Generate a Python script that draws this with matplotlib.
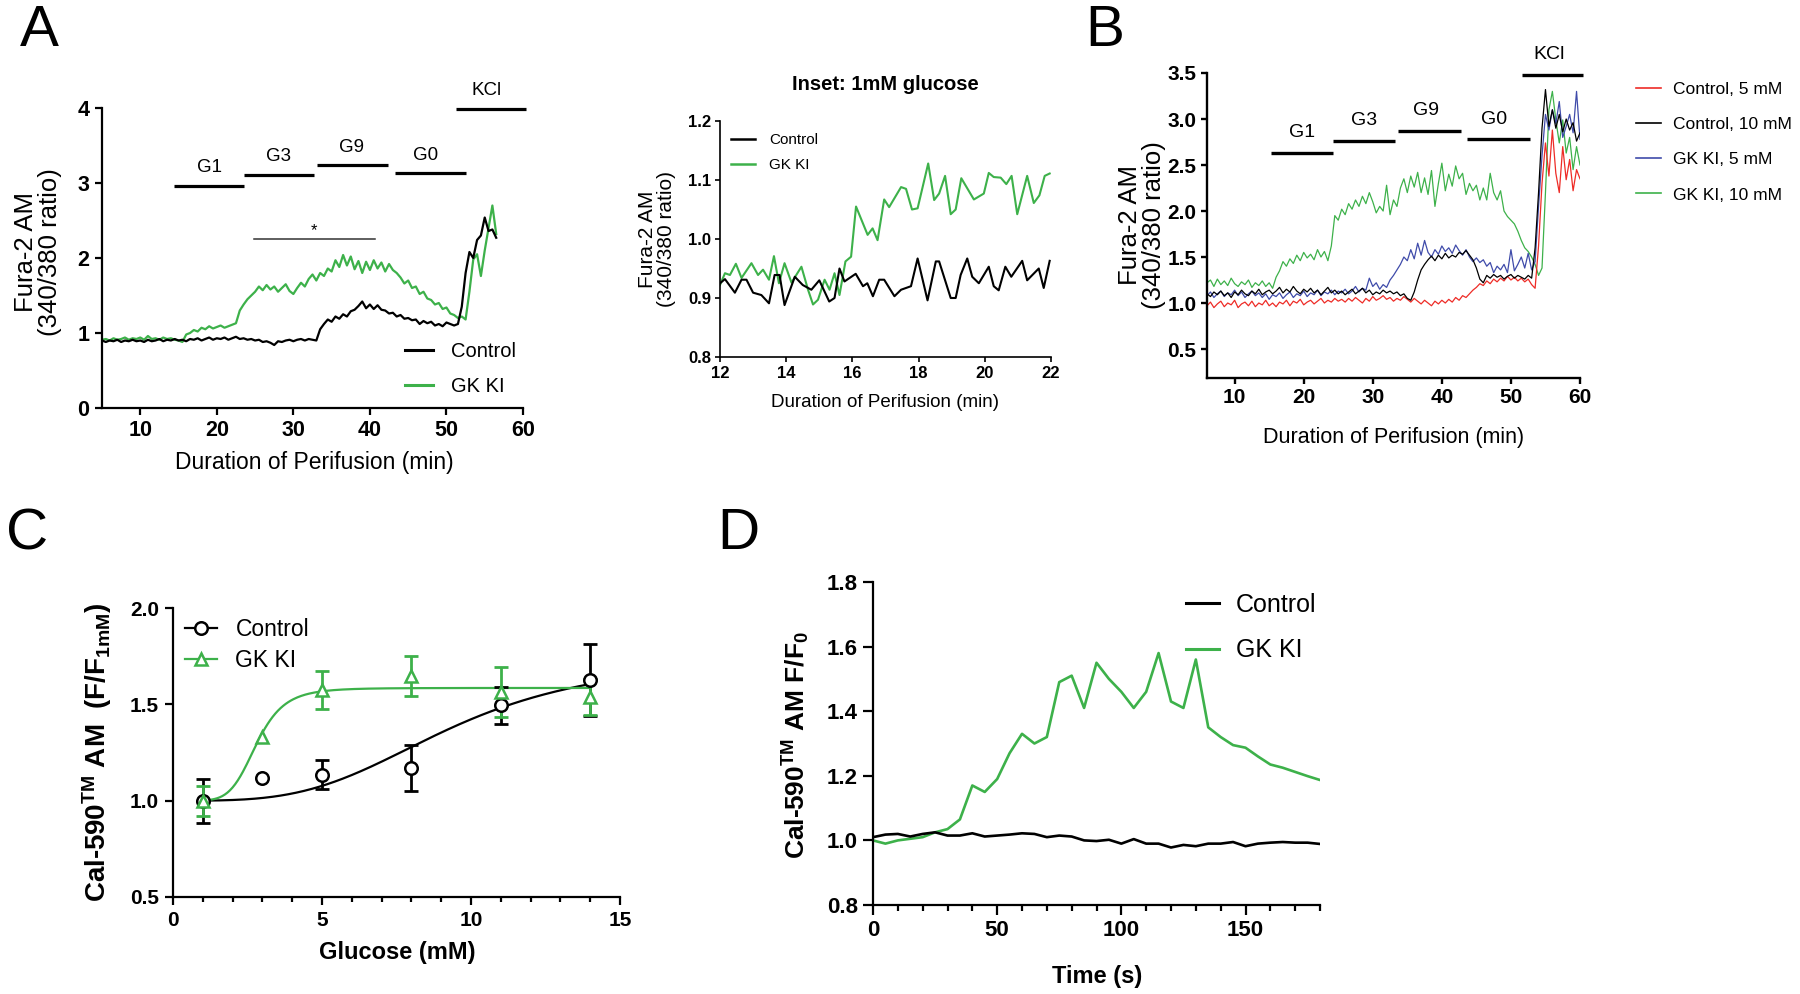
import numpy as np
import matplotlib
matplotlib.use("Agg")
import matplotlib.pyplot as plt
from matplotlib.lines import Line2D
from matplotlib.ticker import MultipleLocator

plt.rcParams["font.family"] = ["Liberation Sans", "DejaVu Sans"]
plt.rcParams["mathtext.fontset"] = "custom"
plt.rcParams["mathtext.rm"] = "Liberation Sans"
plt.rcParams["mathtext.bf"] = "Liberation Sans:bold"
plt.rcParams["mathtext.it"] = "Liberation Sans:italic"

SANS = ["Liberation Sans", "DejaVu Sans"]

# ====================== DATA ======================
# ---- Panel A: Fura-2 traces, 0.5-min samples from 5.0 min ----
a_t_start, a_t_step = 5.0, 0.5
a_control = [0.90, 0.88, 0.90, 0.89, 0.91, 0.88, 0.90, 0.89, 0.91, 0.89,
             0.90, 0.88, 0.91, 0.89, 0.90, 0.92, 0.89, 0.91, 0.90, 0.92,
             0.90, 0.91, 0.89, 0.92, 0.91, 0.93, 0.90, 0.92, 0.94, 0.91,
             0.93, 0.92, 0.94, 0.91, 0.93, 0.95, 0.92, 0.93, 0.91, 0.92,
             0.90, 0.91, 0.88, 0.89, 0.87, 0.84, 0.89, 0.88, 0.90, 0.91,
             0.89, 0.91, 0.92, 0.90, 0.92, 0.91, 0.90, 1.05, 1.12, 1.18,
             1.15, 1.22, 1.19, 1.25, 1.22, 1.29, 1.31, 1.36, 1.42, 1.33,
             1.38, 1.32, 1.37, 1.31, 1.30, 1.26, 1.27, 1.22, 1.24, 1.19,
             1.20, 1.17, 1.18, 1.12, 1.16, 1.13, 1.15, 1.10, 1.12, 1.09,
             1.14, 1.12, 1.10, 1.12, 1.35, 1.80, 2.08, 2.00, 2.24, 2.30,
             2.54, 2.36, 2.38, 2.27]
a_gkki = [0.91, 0.92, 0.90, 0.93, 0.91, 0.92, 0.94, 0.91, 0.93, 0.92,
          0.94, 0.91, 0.96, 0.92, 0.93, 0.91, 0.94, 0.92, 0.93, 0.91,
          0.90, 0.88, 0.98, 1.00, 1.04, 1.02, 1.07, 1.05, 1.09, 1.06,
          1.08, 1.10, 1.07, 1.09, 1.11, 1.13, 1.30, 1.38, 1.45, 1.50,
          1.55, 1.62, 1.57, 1.64, 1.58, 1.62, 1.55, 1.60, 1.65, 1.56,
          1.52, 1.60, 1.67, 1.62, 1.72, 1.78, 1.70, 1.80, 1.76, 1.86,
          1.82, 1.97, 1.88, 2.04, 1.90, 2.02, 1.85, 1.96, 1.80, 1.95,
          1.84, 1.97, 1.86, 1.94, 1.82, 1.92, 1.84, 1.80, 1.74, 1.66,
          1.70, 1.60, 1.62, 1.52, 1.55, 1.46, 1.44, 1.38, 1.40, 1.32,
          1.34, 1.26, 1.24, 1.20, 1.22, 1.18, 1.55, 1.98, 2.05, 1.76,
          2.10, 2.40, 2.70, 2.32]
a_steps = ["G1", "G3", "G9", "G0", "KCl"]
a_step_start = [14.4, 23.55, 33.1, 43.3, 51.3]
a_step_end = [23.6, 32.7, 42.3, 52.5, 60.45]
a_sig_range = [24.8, 40.7]

# ---- Inset: 1 mM glucose ----
inset_ctrl_t = [12.0, 12.15, 12.45, 12.65, 12.8, 13.0, 13.25, 13.48, 13.65, 13.8,
                13.95, 14.26, 14.5, 14.76, 15.0, 15.3, 15.46, 15.61, 15.76, 16.1,
                16.32, 16.45, 16.62, 16.81, 16.96, 17.27, 17.47, 17.77, 17.97, 18.27,
                18.52, 18.62, 18.97, 19.12, 19.27, 19.47, 19.62, 19.82, 20.12, 20.27,
                20.42, 20.62, 20.8, 21.13, 21.28, 21.63, 21.78, 21.96]
inset_ctrl_v = [0.925, 0.932, 0.909, 0.931, 0.931, 0.909, 0.905, 0.891, 0.939, 0.939,
                0.888, 0.936, 0.922, 0.914, 0.930, 0.894, 0.900, 0.950, 0.928, 0.941,
                0.920, 0.925, 0.903, 0.931, 0.931, 0.903, 0.914, 0.920, 0.967, 0.896,
                0.962, 0.962, 0.900, 0.900, 0.939, 0.967, 0.936, 0.925, 0.953, 0.920,
                0.913, 0.953, 0.936, 0.963, 0.930, 0.950, 0.917, 0.963]
inset_gk_t = [12.0, 12.15, 12.3, 12.48, 12.65, 12.95, 13.15, 13.3, 13.48, 13.63,
              13.78, 13.95, 14.16, 14.46, 14.66, 14.81, 14.96, 15.16, 15.31, 15.46,
              15.61, 15.79, 15.96, 16.11, 16.46, 16.61, 16.76, 16.96, 17.11, 17.47,
              17.62, 17.8, 17.97, 18.29, 18.47, 18.62, 18.8, 18.97, 19.12, 19.29,
              19.67, 19.97, 20.12, 20.27, 20.48, 20.65, 20.81, 20.98, 21.28, 21.48,
              21.65, 21.81, 21.96]
inset_gk_v = [0.922, 0.942, 0.939, 0.958, 0.934, 0.959, 0.939, 0.948, 0.931, 0.971,
              0.925, 0.959, 0.926, 0.953, 0.914, 0.889, 0.897, 0.931, 0.914, 0.942,
              0.905, 0.962, 0.970, 1.055, 1.007, 1.018, 0.998, 1.067, 1.054, 1.088,
              1.085, 1.050, 1.052, 1.128, 1.066, 1.077, 1.107, 1.042, 1.050, 1.103,
              1.067, 1.077, 1.112, 1.105, 1.104, 1.093, 1.107, 1.042, 1.107, 1.061,
              1.074, 1.107, 1.111]

# ---- Panel B: 0.5-min samples from 6.0 min ----
b_t_start, b_t_step = 6.0, 0.5
b_ctrl5 = [0.97, 1.01, 0.95, 0.99, 1.02, 0.96, 1.00, 0.98, 1.03, 0.95,
           0.99, 1.01, 0.97, 1.02, 0.96, 1.00, 0.98, 1.03, 0.97, 1.00,
           0.96, 1.01, 0.99, 1.03, 0.97, 1.02, 1.00, 1.04, 0.98, 1.01,
           1.03, 0.99, 1.02, 1.05, 1.00, 1.03, 1.01, 1.05, 1.02, 1.04,
           1.01, 1.05, 1.02, 1.06, 1.03, 1.00, 1.05, 1.02, 1.07, 1.03,
           1.05, 1.08, 1.04, 1.06, 1.02, 1.05, 1.03, 1.07, 1.04, 1.01,
           1.05, 1.02, 0.99, 1.03, 1.00, 0.97, 1.02, 0.99, 1.03, 1.00,
           1.04, 1.01, 1.06, 1.03, 1.08, 1.06, 1.10, 1.14, 1.17, 1.21,
           1.19, 1.24, 1.21, 1.26, 1.23, 1.27, 1.24, 1.29, 1.25, 1.28,
           1.24, 1.27, 1.23, 1.26, 1.20, 1.16, 1.62, 2.30, 2.74, 2.38,
           2.88, 2.41, 2.20, 2.70, 2.34, 2.56, 2.22, 2.45, 2.35]
b_ctrl10 = [1.10, 1.07, 1.12, 1.09, 1.13, 1.08, 1.11, 1.06, 1.12, 1.09,
            1.14, 1.10, 1.08, 1.13, 1.10, 1.15, 1.09, 1.12, 1.14, 1.10,
            1.13, 1.17, 1.11, 1.15, 1.12, 1.18, 1.13, 1.10, 1.15, 1.12,
            1.16, 1.11, 1.14, 1.09, 1.13, 1.17, 1.11, 1.14, 1.10, 1.13,
            1.09, 1.12, 1.15, 1.10, 1.13, 1.16, 1.11, 1.14, 1.09, 1.12,
            1.10, 1.14, 1.11, 1.13, 1.10, 1.12, 1.08, 1.10, 1.05, 1.03,
            1.12, 1.25, 1.36, 1.42, 1.47, 1.51, 1.46, 1.52, 1.48, 1.54,
            1.49, 1.52, 1.50, 1.55, 1.53, 1.57, 1.52, 1.47, 1.38, 1.26,
            1.22, 1.30, 1.27, 1.31, 1.28, 1.30, 1.26, 1.29, 1.31, 1.27,
            1.30, 1.28, 1.26, 1.30, 1.27, 1.60, 2.20, 2.90, 3.32, 2.92,
            3.10, 2.90, 3.05, 2.86, 3.00, 2.88, 2.96, 2.76, 2.85]
b_gk5 = [1.08, 1.12, 1.06, 1.10, 1.13, 1.07, 1.11, 1.09, 1.14, 1.08,
         1.12, 1.06, 1.10, 1.13, 1.08, 1.11, 1.06, 1.10, 1.04, 1.09,
         1.07, 1.11, 1.05, 1.09, 1.12, 1.06, 1.10, 1.08, 1.13, 1.07,
         1.11, 1.09, 1.14, 1.08, 1.12, 1.10, 1.14, 1.09, 1.13, 1.11,
         1.15, 1.10, 1.13, 1.18, 1.12, 1.16, 1.14, 1.27, 1.18, 1.22,
         1.15, 1.20, 1.17, 1.25, 1.30, 1.36, 1.42, 1.50, 1.46, 1.58,
         1.48, 1.65, 1.52, 1.68, 1.55, 1.50, 1.58, 1.53, 1.62, 1.56,
         1.60, 1.54, 1.63, 1.57, 1.52, 1.58, 1.50, 1.45, 1.49, 1.44,
         1.47, 1.40, 1.44, 1.33, 1.40, 1.36, 1.42, 1.33, 1.58, 1.35,
         1.42, 1.50, 1.38, 1.54, 1.36, 1.45, 2.05, 2.60, 3.05, 2.88,
         3.10, 2.95, 3.19, 2.80, 2.92, 3.05, 2.85, 3.30, 2.78]
b_gk10 = [1.22, 1.25, 1.18, 1.26, 1.20, 1.24, 1.19, 1.27, 1.21, 1.18,
          1.23, 1.20, 1.25, 1.17, 1.22, 1.19, 1.24, 1.18, 1.22, 1.16,
          1.28, 1.35, 1.45, 1.40, 1.48, 1.43, 1.52, 1.46, 1.55, 1.49,
          1.53, 1.47, 1.58, 1.50, 1.56, 1.46, 1.62, 1.95, 1.90, 2.02,
          1.96, 2.08, 2.02, 2.12, 2.05, 2.16, 2.08, 2.20, 2.10, 1.98,
          2.05, 2.00, 2.28, 1.96, 2.12, 2.05, 2.25, 2.35, 2.20, 2.38,
          2.26, 2.42, 2.20, 2.36, 2.18, 2.44, 2.05, 2.30, 2.52, 2.22,
          2.40, 2.27, 2.49, 2.35, 2.41, 2.18, 2.30, 2.22, 2.28, 2.12,
          2.25, 2.12, 2.41, 2.20, 2.12, 2.22, 2.00, 1.94, 1.90, 1.86,
          1.78, 1.68, 1.60, 1.56, 1.50, 1.42, 1.30, 1.38, 2.20, 3.10,
          3.30, 2.99, 2.74, 2.99, 2.63, 2.80, 2.45, 2.70, 2.50]
b_labels = ["Control, 5 mM", "Control, 10 mM", "GK KI, 5 mM", "GK KI, 10 mM"]
b_steps = ["G1", "G3", "G9", "G0", "KCl"]
b_step_start = [15.2, 24.2, 33.7, 43.7, 51.6]
b_step_end = [24.2, 33.2, 42.7, 52.7, 60.5]

# ---- Panel C: dose response ----
c_glucose = [1, 3, 5, 8, 11, 14]
c_ctrl_mean = [1.00, 1.116, 1.135, 1.168, 1.495, 1.625]
c_ctrl_sem = [0.115, 0.0, 0.075, 0.12, 0.095, 0.186]
c_gk_mean = [0.997, 1.33, 1.573, 1.646, 1.564, 1.538]
c_gk_sem = [0.077, 0.0, 0.098, 0.103, 0.13, 0.095]
c_ctrl_fit = {"bottom": 1.0, "top": 1.75, "ec50": 9.3, "hill": 3.5}
c_gk_fit = {"bottom": 1.0, "top": 1.585, "ec50": 2.8, "hill": 6.0}

# ---- Panel D: Cal-590 time course, 5-s samples ----
d_time = list(range(0, 181, 5))
d_gkki = [1.00, 0.99, 1.00, 1.005, 1.01, 1.025, 1.035, 1.065, 1.17, 1.15,
          1.19, 1.27, 1.33, 1.30, 1.32, 1.49, 1.51, 1.41, 1.55, 1.50,
          1.46, 1.41, 1.46, 1.58, 1.43, 1.41, 1.56, 1.35, 1.32, 1.295,
          1.287, 1.26, 1.235, 1.225, 1.212, 1.199, 1.187]
d_control = [1.01, 1.018, 1.02, 1.012, 1.02, 1.025, 1.015, 1.015, 1.022, 1.012,
             1.015, 1.018, 1.022, 1.02, 1.01, 1.015, 1.012, 1.0, 0.998, 1.002,
             0.99, 1.004, 0.99, 0.99, 0.978, 0.986, 0.982, 0.99, 0.99, 0.995,
             0.982, 0.99, 0.993, 0.995, 0.993, 0.993, 0.989]

# ====================== STYLE ======================
GREEN = "#3DB14A"
RED = "#EE2C27"
BLUE = "#3F4BAA"
W, H = 1800, 994

fig = plt.figure(figsize=(18, 9.94), dpi=100)


def add_axes_px(l, t, r, b):
    return fig.add_axes([l / W, 1 - b / H, (r - l) / W, (b - t) / H])


def ftext(x, y, s, **kw):
    return fig.text(x / W, 1 - y / H, s, **kw)


def style_axes(ax, lw, major_len, minor_len=None):
    for s in ("top", "right"):
        ax.spines[s].set_visible(False)
    for s in ("left", "bottom"):
        ax.spines[s].set_linewidth(lw)
    ax.tick_params(which="major", direction="out", length=major_len, width=lw)
    if minor_len:
        ax.tick_params(which="minor", direction="out", length=minor_len, width=lw)


def set_ticks(ax, xt, yt, size, xfmt="{:g}", yfmt="{:g}", pad=3):
    ax.set_xticks(xt, labels=[xfmt.format(v) for v in xt], fontsize=size,
                  fontweight="bold")
    ax.set_yticks(yt, labels=[yfmt.format(v) for v in yt], fontsize=size,
                  fontweight="bold")
    ax.tick_params(axis="both", which="major", pad=pad)


def hill(x, p):
    x = np.asarray(x, dtype=float)
    return p["bottom"] + (p["top"] - p["bottom"]) * x ** p["hill"] / (x ** p["hill"] + p["ec50"] ** p["hill"])


# ====================== PANEL A ======================
axA = add_axes_px(102, 108, 523, 408)
tA = a_t_start + a_t_step * np.arange(len(a_control))
axA.plot(tA, a_gkki, color=GREEN, lw=1.6)
axA.plot(tA, a_control, color="black", lw=1.6)
axA.set_xlim(5, 60)
axA.set_ylim(0, 4)
style_axes(axA, 1.6, 5)
set_ticks(axA, [10, 20, 30, 40, 50, 60], [0, 1, 2, 3, 4], 15.5, pad=4)
a_levels = [2.96, 3.11, 3.24, 3.13, 3.99]
a_label_x = [19.1, 28.0, 37.6, 47.3, 55.3]
for name, s, e, lv, lx in zip(a_steps, a_step_start, a_step_end, a_levels, a_label_x):
    axA.plot([s, e], [lv, lv], color="black", lw=2.3, solid_capstyle="butt", clip_on=False)
    axA.text(lx, lv + 0.24, name, ha="center", va="center", fontsize=13.5)
axA.plot(a_sig_range, [2.25, 2.25], color="#333333", lw=1.1, clip_on=False)
axA.text(np.mean(a_sig_range), 2.26, "*", ha="center", va="bottom", fontsize=12)
axA.legend([Line2D([], [], color="black", lw=2.2), Line2D([], [], color=GREEN, lw=2.2)],
           ["Control", "GK KI"], loc="upper left",
           bbox_to_anchor=(405 / W, 1 - 342 / H), bbox_transform=fig.transFigure,
           frameon=False, fontsize=14.5, handlelength=1.4, handletextpad=0.9,
           labelspacing=0.8, borderpad=0, borderaxespad=0)
ftext(38, 252, "Fura-2 AM\n(340/380 ratio)", rotation=90, ha="center", va="center",
      fontsize=18.5, linespacing=1.0)
ftext(314, 462, "Duration of Perifusion (min)", ha="center", va="center", fontsize=16.5)

# ====================== INSET ======================
axI = add_axes_px(720, 121, 1051, 357)
axI.plot(inset_gk_t, inset_gk_v, color=GREEN, lw=1.5)
axI.plot(inset_ctrl_t, inset_ctrl_v, color="black", lw=1.5)
axI.set_xlim(12, 22)
axI.set_ylim(0.8, 1.2)
style_axes(axI, 1.2, 3.5)
set_ticks(axI, [12, 14, 16, 18, 20, 22], [0.8, 0.9, 1.0, 1.1, 1.2], 12,
          yfmt="{:.1f}", pad=3)
axI.legend([Line2D([], [], color="black", lw=1.8), Line2D([], [], color=GREEN, lw=1.8)],
           ["Control", "GK KI"], loc="upper left",
           bbox_to_anchor=(731 / W, 1 - 133 / H), bbox_transform=fig.transFigure,
           frameon=False, fontsize=11, handlelength=1.6, handletextpad=0.9,
           labelspacing=0.75, borderpad=0, borderaxespad=0)
ftext(885, 85, "Inset: 1mM glucose", ha="center", va="center", fontsize=14.5,
      fontweight="bold")
ftext(657, 239, "Fura-2 AM\n(340/380 ratio)", rotation=90, ha="center", va="center",
      fontsize=15, linespacing=1.0)
ftext(885, 403, "Duration of Perifusion (min)", ha="center", va="center", fontsize=13.5)

# ====================== PANEL B ======================
axB = add_axes_px(1207, 73, 1580, 378)
tB = b_t_start + b_t_step * np.arange(len(b_ctrl5))
axB.plot(tB, b_gk10, color=GREEN, lw=0.9)
axB.plot(tB, b_ctrl5, color=RED, lw=0.9)
axB.plot(tB, b_gk5, color=BLUE, lw=0.9)
axB.plot(tB, b_ctrl10, color="black", lw=0.9)
axB.set_xlim(6, 60)
axB.set_ylim(0.185, 3.5)
style_axes(axB, 1.7, 4.5)
set_ticks(axB, [10, 20, 30, 40, 50, 60], [0.5, 1.0, 1.5, 2.0, 2.5, 3.0, 3.5], 15,
          yfmt="{:.1f}", pad=3)
b_levels = [2.63, 2.76, 2.87, 2.78, 3.48]
b_label_x = [19.7, 28.7, 37.7, 47.5, 55.5]
for name, s, e, lv, lx in zip(b_steps, b_step_start, b_step_end, b_levels, b_label_x):
    axB.plot([s, e], [lv, lv], color="black", lw=2.4, solid_capstyle="butt", clip_on=False)
    axB.text(lx, lv + 0.22, name, ha="center", va="center", fontsize=14)
axB.legend([Line2D([], [], color=c, lw=1.2) for c in (RED, "black", BLUE, GREEN)],
           b_labels, loc="upper left",
           bbox_to_anchor=(1636 / W, 1 - 82 / H), bbox_transform=fig.transFigure,
           frameon=False, fontsize=12.5, handlelength=1.45,
           handletextpad=0.7, labelspacing=1.15, borderpad=0, borderaxespad=0)
ftext(1142, 225, "Fura-2 AM\n(340/380 ratio)", rotation=90, ha="center", va="center",
      fontsize=18.5, linespacing=0.95)
ftext(1394, 437, "Duration of Perifusion (min)", ha="center", va="center", fontsize=15.5)

# ====================== PANEL C ======================
axC = add_axes_px(173, 608, 620, 897)
xs = np.linspace(1, 14, 300)
axC.plot(xs, hill(xs, c_ctrl_fit), color="black", lw=1.6, zorder=2)
axC.plot(xs, hill(xs, c_gk_fit), color=GREEN, lw=1.6, zorder=2)
for mean, sem, col, mk in ((c_ctrl_mean, c_ctrl_sem, "black", "o"),
                           (c_gk_mean, c_gk_sem, GREEN, "^")):
    idx = [i for i, s in enumerate(sem) if s > 0]
    axC.errorbar([c_glucose[i] for i in idx], [mean[i] for i in idx],
                 yerr=[sem[i] for i in idx], fmt="none", ecolor=col, elinewidth=2,
                 capsize=5, capthick=2, zorder=3)
    axC.plot(c_glucose, mean, linestyle="none", marker=mk, ms=9, mfc="white",
             mec=col, mew=1.8, zorder=4)
axC.set_xlim(0, 15)
axC.set_ylim(0.5, 2.0)
style_axes(axC, 1.6, 6, 3.5)
axC.xaxis.set_minor_locator(MultipleLocator(1))
set_ticks(axC, [0, 5, 10, 15], [0.5, 1.0, 1.5, 2.0], 15, yfmt="{:.1f}", pad=4)
axC.legend([Line2D([], [], color="black", lw=1.6, marker="o", ms=9, mfc="white", mew=1.8),
            Line2D([], [], color=GREEN, lw=1.6, marker="^", ms=9, mfc="white", mew=1.8)],
           ["Control", "GK KI"], loc="upper left",
           bbox_to_anchor=(185 / W, 1 - 618 / H), bbox_transform=fig.transFigure,
           frameon=False, fontsize=16.5, handlelength=1.4, handletextpad=0.8,
           labelspacing=0.35, borderpad=0, borderaxespad=0)
ftext(97, 752, r"Cal-590$^{\mathbf{TM}}$ AM  (F/F$_{\mathbf{1mM}}$)", rotation=90,
      ha="center", va="center", fontsize=20, fontweight="bold")
ftext(397, 952, "Glucose (mM)", ha="center", va="center", fontsize=17, fontweight="bold")

# ====================== PANEL D ======================
axD = add_axes_px(873, 582, 1320, 905)
axD.plot(d_time, d_gkki, color=GREEN, lw=1.9)
axD.plot(d_time, d_control, color="black", lw=1.9)
axD.set_xlim(0, 180)
axD.set_ylim(0.8, 1.8)
style_axes(axD, 1.6, 7, 4)
axD.xaxis.set_minor_locator(MultipleLocator(10))
set_ticks(axD, [0, 50, 100, 150], [0.8, 1.0, 1.2, 1.4, 1.6, 1.8], 16,
          yfmt="{:.1f}", pad=4)
axD.legend([Line2D([], [], color="black", lw=2.2), Line2D([], [], color=GREEN, lw=2.2)],
           ["Control", "GK KI"], loc="upper left",
           bbox_to_anchor=(1186 / W, 1 - 593 / H), bbox_transform=fig.transFigure,
           frameon=False, fontsize=18, handlelength=1.3, handletextpad=0.7,
           labelspacing=0.85, borderpad=0, borderaxespad=0)
ftext(796, 745, r"Cal-590$^{\mathbf{TM}}$ AM F/F$_{\mathbf{0}}$", rotation=90,
      ha="center", va="center", fontsize=19, fontweight="bold")
ftext(1097, 977, "Time (s)", ha="center", va="center", fontsize=17, fontweight="bold")

# ====================== PANEL LETTERS ======================
for letter, x, y in (("A", 20, 46), ("B", 1085, 46), ("C", 6, 549), ("D", 717, 549)):
    ftext(x, y, letter, ha="left", va="baseline", fontsize=42)

fig.savefig("out.png", dpi=100)
